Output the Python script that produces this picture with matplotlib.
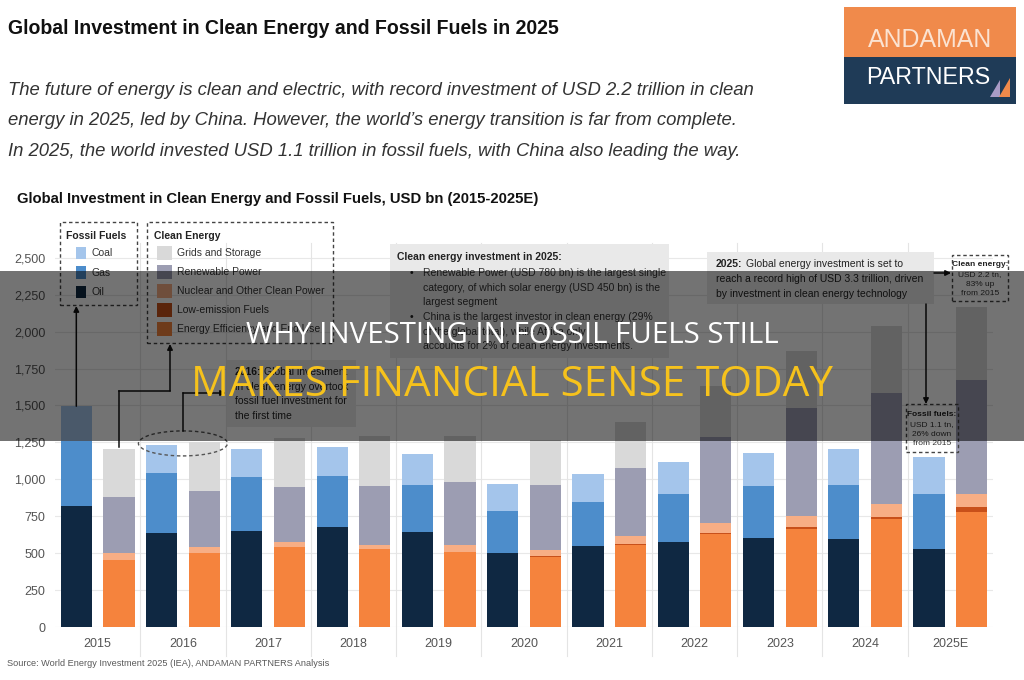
import numpy as np
import matplotlib
matplotlib.use("Agg")
import matplotlib.pyplot as plt
import matplotlib.patches as mpatches
from matplotlib.lines import Line2D
from matplotlib.ticker import StrMethodFormatter

# values, USD bn
years = ["2015", "2016", "2017", "2018", "2019", "2020", "2021", "2022", "2023", "2024", "2025E"]
oil = np.array([820, 639, 650, 680, 646, 503, 547, 576, 603, 594, 528])
gas = np.array([440, 402, 366, 343, 314, 283, 298, 327, 352, 368, 375])
coal = np.array([235, 190, 192, 194, 208, 185, 194, 213, 224, 242, 251])
efficiency = np.array([454, 499, 540, 526, 508, 476, 556, 630, 664, 734, 781])
low_emission = np.array([3, 3, 3, 3, 3, 4, 5, 6, 16, 14, 34])
nuclear = np.array([46, 40, 35, 27, 42, 42, 58, 71, 72, 83, 84])
renewables = np.array([380, 377, 371, 397, 427, 440, 456, 580, 728, 756, 776])
grids = np.array([323, 336, 331, 337, 310, 306, 315, 348, 390, 453, 495])

fossil_series = [("Oil", oil, "#0f2842"), ("Gas", gas, "#4d8dcb"), ("Coal", coal, "#a4c5eb")]
clean_series = [("Energy Efficiency and End Use", efficiency, "#f5833d"),
                ("Low-emission Fuels", low_emission, "#c8501a"),
                ("Nuclear and Other Clean Power", nuclear, "#f7ae85"),
                ("Renewable Power", renewables, "#9c9db2"),
                ("Grids and Storage", grids, "#d9d9d9")]

W, H = 1024, 680
plt.rcParams['font.family'] = ['Liberation Sans Narrow', 'Liberation Sans', 'DejaVu Sans']
fig = plt.figure(figsize=(W / 100, H / 100), dpi=100)
fig.patch.set_facecolor("white")


def P(x, y):
    return (x / W, 1 - y / H)


def ftext(x, y, s, **kw):
    kw.setdefault("color", "#222222")
    return fig.text(x / W, 1 - y / H, s, **kw)


def rect(x0, y0, x1, y1, **kw):
    r = mpatches.Rectangle(P(x0, y1), (x1 - x0) / W, (y1 - y0) / H,
                           transform=fig.transFigure, **kw)
    fig.add_artist(r)
    return r


def dashed_box(x0, y0, x1, y1):
    rect(x0, y0, x1, y1, fill=False, edgecolor="#444444", linewidth=1.0,
         linestyle=(0, (2.5, 2)))


def path(pts, color="#111111"):
    for a, b in zip(pts[:-2], pts[1:-1]):
        fig.add_artist(Line2D([a[0] / W, b[0] / W], [1 - a[1] / H, 1 - b[1] / H],
                              transform=fig.transFigure, color=color, lw=1.1))
    fig.add_artist(mpatches.FancyArrowPatch(P(*pts[-2]), P(*pts[-1]),
                                            transform=fig.transFigure,
                                            arrowstyle="-|>", mutation_scale=8,
                                            color=color, lw=1.1,
                                            shrinkA=0, shrinkB=0))


# --- main chart ---
ax = fig.add_axes([55 / W, 1 - 627 / H, 938 / W, 384 / H])
x = np.arange(len(years))
bw = 0.365

bottom = np.zeros(len(years))
for name, vals, col in fossil_series:
    ax.bar(x - 0.25, vals, bw, bottom=bottom, color=col, zorder=3, linewidth=0)
    bottom = bottom + vals
fossil_total = bottom

bottom = np.zeros(len(years))
for name, vals, col in clean_series:
    ax.bar(x + 0.25, vals, bw, bottom=bottom, color=col, zorder=3, linewidth=0)
    bottom = bottom + vals
clean_total = bottom

ax.set_xlim(-0.5, len(years) - 0.5)
ax.set_ylim(0, 2600)
ax.set_yticks(np.arange(0, 2501, 250))
ax.yaxis.set_major_formatter(StrMethodFormatter("{x:,.0f}"))
ax.set_xticks(x)
ax.set_xticklabels(years)
ax.tick_params(length=0, labelsize=9, colors="#555555")
ax.tick_params(axis="y", pad=7)
ax.tick_params(axis="x", pad=8)
for s in ax.spines.values():
    s.set_visible(False)
ax.set_axisbelow(True)
ax.yaxis.grid(True, color="#e8e8e8", lw=0.8)
for b in x[:-1] + 0.5:
    ax.plot([b, b], [-0.075, 1], transform=ax.get_xaxis_transform(),
            color="#e4e4e4", lw=0.8, clip_on=False, zorder=1)


def d2p(xd, yd):
    X, Y = ax.transData.transform((xd, yd))
    return X, H - Y


# --- header ---
t_head = ftext(8, 34, "Global Investment in Clean Energy and Fossil Fuels in 2025",
               fontsize=15, fontweight="bold", va="baseline", color="#111111")
intro = ["The future of energy is clean and electric, with record investment of USD 2.2 trillion in clean",
         "energy in 2025, led by China. However, the world\u2019s energy transition is far from complete.",
         "In 2025, the world invested USD 1.1 trillion in fossil fuels, with China also leading the way."]
intro_y = [95, 125, 156]
intro_w = [752, 736, 738]
t_intro = [ftext(8, yy, s, fontsize=14, fontstyle="italic", va="baseline", color="#333333")
           for s, yy in zip(intro, intro_y)]
t_ctitle = ftext(17, 203, "Global Investment in Clean Energy and Fossil Fuels, USD bn (2015-2025E)",
                 fontsize=12, fontweight="bold", va="baseline", color="#111111")
t_source = ftext(7, 666, "Source: World Energy Investment 2025 (IEA), ANDAMAN PARTNERS Analysis",
                 fontsize=7, va="baseline", color="#595959")

# --- logo ---
rect(844, 7, 1016, 57, facecolor="#f08a4b", edgecolor="none")
rect(844, 57, 1016, 104, facecolor="#1f3b57", edgecolor="none")
t_and = ftext(930, 47, "ANDAMAN", fontsize=14, ha="center", va="baseline", color="#fbe3d2",
              family=["Liberation Sans", "DejaVu Sans"])
t_par = ftext(928, 84, "PARTNERS", fontsize=14, ha="center", va="baseline", color="#ffffff",
              family=["Liberation Sans", "DejaVu Sans"])
fig.add_artist(mpatches.Polygon([P(990, 97), P(1000, 80), P(1000, 97)], closed=True,
                                transform=fig.transFigure, facecolor="#a99bc6", edgecolor="none"))
fig.add_artist(mpatches.Polygon([P(999, 97), P(1010, 78), P(1010, 97)], closed=True,
                                transform=fig.transFigure, facecolor="#f08a4b", edgecolor="none"))

# --- legends ---
leg_fs = 7.5
dashed_box(60, 222, 137, 305)
ftext(66, 239, "Fossil Fuels", fontsize=leg_fs, fontweight="bold", va="baseline")
for i, (name, vals, col) in enumerate(reversed(fossil_series)):
    yy = 253 + 19.5 * i
    rect(76, yy - 6, 86, yy + 6, facecolor=col, edgecolor="none")
    ftext(91, yy, name, fontsize=leg_fs, va="center", color="#333333")

dashed_box(147, 222, 333, 343)
ftext(154, 239, "Clean Energy", fontsize=leg_fs, fontweight="bold", va="baseline")
for i, (name, vals, col) in enumerate(reversed(clean_series)):
    yy = 253 + 19 * i
    rect(157, yy - 7, 172, yy + 7, facecolor=col, edgecolor="none")
    ftext(177, yy, name, fontsize=leg_fs, va="center", color="#333333")

# arrows from 2015 bars to legends
fx, fy = d2p(x[0] - 0.25, fossil_total[0])
path([(fx, fy), (fx, 306)])
cx, cy = d2p(x[0] + 0.25, clean_total[0])
path([(cx, cy - 2), (cx, 391), (170, 391), (170, 344)])

# 2016 crossover annotation
box_fs = 7.5
ex, ey = d2p(x[1], (fossil_total[1] + clean_total[1]) / 2)
fig.add_artist(mpatches.Ellipse(P(ex, ey), 89 / W, 25 / H, transform=fig.transFigure,
                                fill=False, edgecolor="#555555", lw=1.0, linestyle=(0, (2.5, 2))))
path([(ex, ey - 12.5), (ex, 393), (226, 393)])
rect(227, 360, 356, 427, facecolor="#e9e9e9", edgecolor="none")
b2016 = ftext(235, 375, "2016:", fontsize=box_fs, fontweight="bold", va="baseline")
r2016 = ftext(258, 375, "Global investment", fontsize=box_fs, va="baseline")
for i, s in enumerate(["in clean energy overtook", "fossil fuel investment for", "the first time"]):
    ftext(235, 390 + 14.5 * i, s, fontsize=box_fs, va="baseline")

# clean energy 2025 box
rect(390, 244, 669, 358, facecolor="#e9e9e9", edgecolor="none")
ftext(397, 260, "Clean energy investment in 2025:", fontsize=box_fs, fontweight="bold", va="baseline")
bullet_lines = [("\u2022", "Renewable Power (USD 780 bn) is the largest single"),
                ("", "category, of which solar energy (USD 450 bn) is the"),
                ("", "largest segment"),
                ("\u2022", "China is the largest investor in clean energy (29%"),
                ("", "of the global total), while Africa only"),
                ("", "accounts for 2% of clean energy investments.")]
for i, (bl, s) in enumerate(bullet_lines):
    yy = 276 + 14.7 * i
    if bl:
        ftext(410, yy, bl, fontsize=box_fs, va="baseline")
    ftext(423, yy, s, fontsize=box_fs, va="baseline", color="#333333")

# 2025 record box
rect(707, 252, 934, 304, facecolor="#e9e9e9", edgecolor="none")
b2025 = ftext(716, 267, "2025:", fontsize=box_fs, fontweight="bold", va="baseline")
r2025 = ftext(740, 267, "Global energy investment is set to", fontsize=box_fs, va="baseline")
ftext(716, 282, "reach a record high of USD 3.3 trillion, driven", fontsize=box_fs, va="baseline")
ftext(716, 297, "by investment in clean energy technology", fontsize=box_fs, va="baseline")
path([(934, 273), (951, 273)])

dashed_box(952, 255, 1008, 301)
ftext(980, 266, "Clean energy:", fontsize=6, fontweight="bold", ha="center", va="baseline")
for i, s in enumerate(["USD 2.2 tn,", "83% up", "from 2015"]):
    ftext(980, 276 + 9.5 * i, s, fontsize=6, ha="center", va="baseline", color="#333333")

path([(926, 304), (926, 404)])
dashed_box(906, 404, 958, 452)
ftext(932, 416, "Fossil fuels:", fontsize=6, fontweight="bold", ha="center", va="baseline")
for i, s in enumerate(["USD 1.1 tn,", "26% down", "from 2015"]):
    ftext(932, 426 + 9.5 * i, s, fontsize=6, ha="center", va="baseline", color="#333333")

# --- overlay banner ---
rect(0, 271, W, 441, facecolor="black", alpha=0.55, edgecolor="none", zorder=50)
ov_font = ["Open Sans", "DejaVu Sans"]
t_w = ftext(512, 343, "WHY INVESTING IN FOSSIL FUELS STILL", fontsize=20, ha="center",
            va="baseline", color="white", family=ov_font, zorder=60)
t_y = ftext(512, 396, "MAKES FINANCIAL SENSE TODAY", fontsize=26, ha="center",
            va="baseline", color="#f6c21c", family=ov_font, zorder=60)

# fit the long text lines to the widths measured on the reference
fig.canvas.draw()
renderer = fig.canvas.get_renderer()


def fit(t, width):
    bb = t.get_window_extent(renderer)
    t.set_fontsize(t.get_fontsize() * width / bb.width)


fit(t_head, 554)
for t, w in zip(t_intro, intro_w):
    fit(t, w)
fit(t_ctitle, 522)
fit(t_source, 318)
fit(t_and, 125)
fit(t_par, 125)
fit(t_w, 533)
fit(t_y, 643)

for b, r in [(b2016, r2016), (b2025, r2025)]:
    bb = b.get_window_extent(renderer)
    r.set_x((bb.x1 + 3) / W)

fig.savefig("out.png", dpi=100)
